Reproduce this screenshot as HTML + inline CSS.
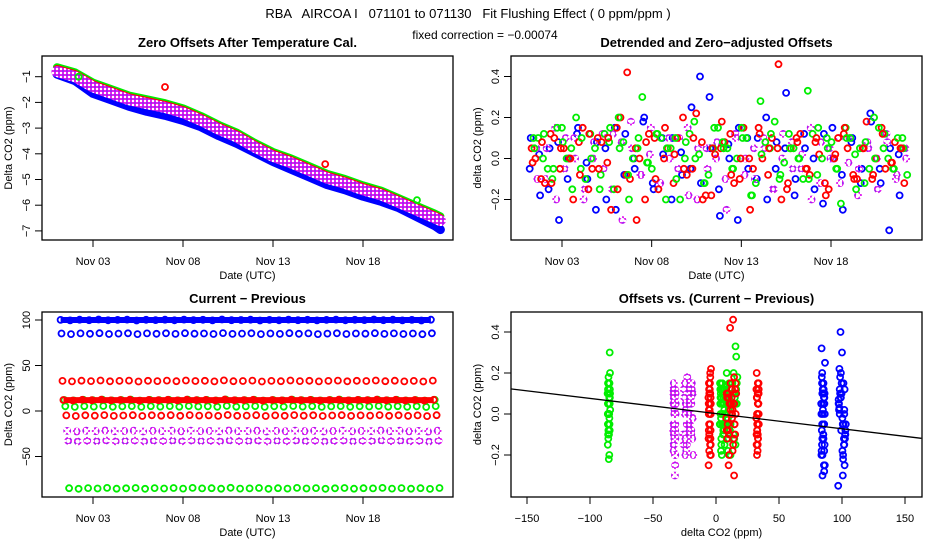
<!DOCTYPE html>
<html><head><meta charset="utf-8"><style>
html,body{margin:0;padding:0;background:#fff;}
svg{display:block;font-family:"Liberation Sans",sans-serif;}
</style></head><body>
<svg id="s" width="936" height="540" viewBox="0 0 936 540">
<defs>
<pattern id="hatch" width="4" height="4" patternUnits="userSpaceOnUse">
<rect width="4" height="4" fill="#e020f0"/><rect width="2" height="2" fill="#ffffff"/><rect x="2" y="2" width="2" height="2" fill="#a020f0"/>
</pattern>
</defs>
<text x="468" y="18" font-size="13" text-anchor="middle" style="white-space:pre">RBA   AIRCOA I   071101 to 071130   Fit Flushing Effect ( 0 ppm/ppm )</text>
<text x="485" y="39" font-size="12" text-anchor="middle">fixed correction = −0.00074</text>
</svg>
<script>
// ---------- data ----------
const trendDays = [1,2,3,4,5,6,7,8,9,10,11,12,13,14,15,16,17,18,19,20,21,22,22.3];
const trendValues = [-0.8,-1.0,-1.4,-1.65,-1.9,-2.05,-2.2,-2.4,-2.7,-3.05,-3.35,-3.75,-4.1,-4.35,-4.65,-4.95,-5.15,-5.4,-5.6,-5.9,-6.2,-6.5,-6.6];
const trendBlueShift = [-0.1,-0.15,-0.25,-0.25,-0.25,-0.3,-0.3,-0.3,-0.25,-0.25,-0.25,-0.2,-0.2,-0.25,-0.25,-0.25,-0.25,-0.25,-0.25,-0.2,-0.25,-0.3,-0.35];
const outlierDays = [7, 15.9, 2.2, 21];
const outlierValues = [-1.4, -4.4, -1.0, -5.8];
const outlierColors = ['#ff0000','#ff0000','#00ee00','#00ee00'];

const groupColors = ['#0000ff','#0000ff','#ff0000','#ff0000','#00ee00','#00ee00','#ff0000','#e020f0','#e020f0','#00ee00'];
const groupLevels = [100,85,33,12,12,5,-5,-22,-33,-85];
const groupSpread = [3,1.5,1,4,5,2,1,4,1,1];
const levelJitter = [0.2,-0.8,0.5,-0.3,0.9,-0.6,0.1,0.7,-0.9,0.4,-0.2,0.6,-0.5,0.8,-0.1,0.3,-0.7,1.0,-0.4,0.0,0.6,-0.9,0.2,-0.5,0.8,-0.3,0.4,-0.8,0.1,0.7,-0.6,0.3,-0.1,0.9,-0.4,0.5,-0.7,0.2,-1.0,0.6];
const offBlue100 = [-0.05,0.02,-0.15,0.08,-0.1,0.12,-0.02,-0.25,0.05,0.15,-0.08,0.0,0.18,-0.12,0.1,-0.2,0.03,-0.05,0.4,0.3,-0.15,0.07,-0.3,0.1,-0.1,0.2,-0.05,0.05,-0.18,0.12,0.0,-0.22,0.15,-0.08,0.08,-0.12,0.22,-0.05,-0.35,0.02];
const offBlue85 = [0.1,-0.18,0.05,-0.3,0.0,0.15,-0.1,0.08,-0.2,-0.25,0.12,-0.05,0.2,-0.15,0.02,0.1,-0.08,0.25,-0.12,0.05,-0.28,0.0,0.15,-0.05,0.1,-0.2,0.08,0.32,-0.1,0.05,-0.15,0.12,0.0,-0.25,0.1,-0.05,0.18,-0.12,0.05,-0.18];
const offRed33 = [0.05,-0.1,0.12,-0.05,0.0,0.08,-0.15,0.1,-0.02,0.15,-0.08,0.05,-0.2,0.1,0.0,-0.12,0.2,-0.05,0.08,-0.18,0.05,0.12,-0.1,0.0,0.15,-0.08,0.05,-0.15,0.1,-0.05,0.08,-0.12,0.0,0.12,-0.08,0.05,-0.1,0.15,-0.02,0.05];
const offRed12 = [-0.02,0.08,-0.12,0.05,0.0,-0.08,0.12,-0.05,0.1,-0.15,0.42,-0.3,0.08,-0.1,0.15,0.02,-0.05,0.1,-0.2,0.05,0.18,-0.08,0.0,-0.25,0.12,0.05,0.46,-0.12,0.08,-0.05,0.1,-0.18,0.02,0.15,-0.1,0.05,-0.08,0.12,-0.02,0.05];
const offGreen12 = [0.1,0.0,-0.1,0.15,0.05,-0.05,0.12,-0.15,0.08,0.2,-0.08,0.05,-0.02,0.12,-0.2,0.1,0.0,0.18,-0.12,0.05,0.08,-0.05,0.15,-0.18,0.28,0.05,-0.1,0.12,0.0,0.33,-0.08,0.1,-0.05,0.15,0.02,-0.12,0.2,0.05,-0.05,0.1];
const offGreen5 = [0.05,0.12,-0.05,0.08,-0.15,0.1,0.0,-0.08,0.15,0.05,-0.2,0.1,-0.02,0.12,0.05,-0.1,0.08,0.0,-0.12,0.15,0.05,-0.05,0.1,-0.18,0.02,0.12,-0.08,0.05,0.0,-0.1,0.15,0.05,-0.05,0.1,-0.15,0.08,0.0,0.12,-0.05,0.05];
const offRedM5 = [0.0,-0.12,0.1,0.05,-0.2,0.15,-0.05,0.08,-0.25,0.2,-0.1,0.0,0.12,-0.15,0.05,0.1,-0.08,0.22,-0.18,0.02,0.08,-0.12,0.15,-0.05,0.0,0.1,-0.2,0.05,0.12,-0.08,0.02,-0.15,0.1,0.05,-0.1,0.18,0.0,-0.05,0.08,-0.12];
const offMagM22 = [0.05,-0.1,0.15,-0.05,0.1,-0.2,0.0,0.12,-0.15,0.08,0.18,-0.08,0.02,-0.12,0.1,-0.05,0.15,-0.2,0.05,0.0,-0.1,0.12,-0.08,0.05,0.1,-0.15,0.0,0.08,-0.05,0.15,-0.12,0.05,0.1,-0.02,-0.18,0.08,0.0,0.12,-0.1,0.05];
const offMagM33 = [-0.1,0.05,-0.2,0.1,0.0,-0.15,0.08,-0.05,0.12,-0.3,0.05,-0.08,0.15,-0.12,0.0,0.1,-0.18,0.05,-0.05,0.08,-0.25,0.1,0.0,-0.1,0.05,-0.15,0.12,-0.05,0.02,-0.2,0.08,0.0,-0.12,0.1,-0.05,0.05,-0.15,0.08,-0.08,0.0];
const offGreenM85 = [0.1,-0.05,0.15,0.0,0.2,-0.1,0.05,0.12,-0.15,0.08,0.0,0.3,-0.05,0.1,0.05,-0.2,0.12,0.02,-0.08,0.15,0.05,0.0,0.1,-0.12,0.08,0.18,-0.02,0.05,-0.1,0.12,0.0,0.08,-0.22,0.1,0.05,-0.05,0.15,0.0,0.1,-0.08];
const groupOffsets = [offBlue100,offBlue85,offRed33,offRed12,offGreen12,offGreen5,offRedM5,offMagM22,offMagM33,offGreenM85];
const drawOrder = [0,1,7,8,2,6,9,4,5,3];
const dateTicks = [3,8,13,18];
const dateLabels = ['Nov 03','Nov 08','Nov 13','Nov 18'];
const tlYTicks = [-1,-2,-3,-4,-5,-6,-7];
const offYTicks = [-0.2,0.0,0.2,0.4];
const offYLabels = ['−0.2','0.0','0.2','0.4'];
const blYTicks = [-50,0,50,100];
const brXTicks = [-150,-100,-50,0,50,100,150];
const fitIntercept = 0.002, fitSlope = -0.00074;
const tStart = 1.2, tEnd = 22.3;

// ---------- helpers ----------
const S = document.getElementById('s');
const NS = 'http://www.w3.org/2000/svg';
function el(tag, attrs, parent){const e=document.createElementNS(NS,tag);for(const k in attrs)e.setAttribute(k,attrs[k]);(parent||S).appendChild(e);return e;}
function lin(d0,d1,r0,r1){return v=>r0+(v-d0)*(r1-r0)/(d1-d0);}
function minus(s){return String(s).replace('-','−');}

function panel(name,L,T,R,B,title){
  const g=el('g',{});
  
  
  const r=el('rect',{x:L,y:T,width:R-L,height:B-T,fill:'none',stroke:'#000','stroke-width':1.3},g);
  
  
  const t=el('text',{x:(L+R)/2,y:T-9,'font-size':13,'font-weight':'bold','text-anchor':'middle'},g);
  t.textContent=title;
  
  
  return g;
}
function xAxis(g,xs,vals,labels,B,title,cx){
  vals.forEach((v,i)=>{
    const x=xs(v);
    el('line',{x1:x,x2:x,y1:B,y2:B+7,stroke:'#000'},g);
    const t=el('text',{x:x,y:B+25,'font-size':11,'text-anchor':'middle'},g);
    t.textContent=labels[i];
    
    
  });
  el('line',{x1:xs(vals[0]),x2:xs(vals[vals.length-1]),y1:B,y2:B,stroke:'#000'},g);
  const t=el('text',{x:cx,y:B+39,'font-size':11,'text-anchor':'middle'},g);
  t.textContent=title;
  
  
}
function yAxis(g,ys,vals,labels,L,T,B,title){
  vals.forEach((v,i)=>{
    const y=ys(v);
    el('line',{x1:L-7,x2:L,y1:y,y2:y,stroke:'#000'},g);
    const t=el('text',{x:L-12,y:y,'font-size':11,'text-anchor':'middle',transform:`rotate(-90 ${L-12} ${y})`},g);
    t.textContent=labels[i];
    
    
  });
  el('line',{x1:L,x2:L,y1:ys(vals[0]),y2:ys(vals[vals.length-1]),stroke:'#000'},g);
  const my=(T+B)/2;
  const t=el('text',{x:L-30,y:my,'font-size':11,'text-anchor':'middle',transform:`rotate(-90 ${L-30} ${my})`},g);
  t.textContent=title;
  
  
}
function dot(g,x,y,color){
  const c=el('circle',{cx:x.toFixed(1),cy:y.toFixed(1),r:3,fill:'none',stroke:color==='#e020f0'?'url(#hatch)':color,'stroke-width':1.8},g);
  
  
}
function tOf(gi,i,n){return tStart+(i+gi/10)*(tEnd-tStart)/n;}

// ---------- panel 1: top-left ----------
(function(){
  const L=42,T=56,R=453,B=240;
  const xs=lin(3,18,93,363), ys=lin(-1,-7,76.7,230.9);
  const g=panel('zero-offsets-panel',L,T,R,B,'Zero Offsets After Temperature Cal.');
  xAxis(g,xs,dateTicks,dateLabels,B,'Date (UTC)',(L+R)/2);
  yAxis(g,ys,tlYTicks,tlYTicks.map(minus),L,T,B,'Delta CO2 (ppm)');
  function band(shiftArr,shift,color,w,name){
    const pts=trendDays.map((d,i)=>xs(d).toFixed(1)+','+ys(trendValues[i]+(shiftArr?shiftArr[i]:0)+shift).toFixed(1)).join(' ');
    const p=el('polyline',{points:pts,fill:'none',stroke:color,'stroke-width':w,'stroke-linejoin':'round','stroke-linecap':'round'},g);
    
    
  }
  band(trendBlueShift,0,'#0000ff',9,'series-blue');
  band(null,0.17,'#00ee00',8,'series-green');
  band(null,0.1,'#ff0000',8,'series-red');
  band(null,0,'url(#hatch)',11,'series-magenta');
  outlierDays.forEach((d,i)=>dot(g,xs(d),ys(outlierValues[i]),outlierColors[i]));
})();

// ---------- panel 2: top-right ----------
(function(){
  const L=511,T=56,R=922,B=240;
  const xs=lin(3,18,562,831), ys=lin(0,0.2,158.5,117.5);
  const g=panel('detrended-offsets-panel',L,T,R,B,'Detrended and Zero\u2212adjusted Offsets');
  xAxis(g,xs,dateTicks,dateLabels,B,'Date (UTC)',(L+R)/2);
  yAxis(g,ys,offYTicks,offYLabels,L,T,B,'delta CO2 (ppm)');
  drawOrder.forEach(gi=>{
    const arr=groupOffsets[gi];
    arr.forEach((v,i)=>dot(g,xs(tOf(gi,i,arr.length)),ys(v),groupColors[gi]));
  });
})();

// ---------- panel 3: bottom-left ----------
(function(){
  const L=42,T=312,R=453,B=497;
  const xs=lin(3,18,93,363), ys=lin(0,50,411,365.5);
  const g=panel('current-minus-previous-panel',L,T,R,B,'Current \u2212 Previous');
  xAxis(g,xs,dateTicks,dateLabels,B,'Date (UTC)',(L+R)/2);
  yAxis(g,ys,blYTicks,blYTicks.map(minus),L,T,B,'Delta CO2 (ppm)');
  drawOrder.forEach(gi=>{
    const arr=groupOffsets[gi];
    if(gi===0||gi===3){
      const p=el('line',{x1:xs(tOf(gi,0,arr.length)),x2:xs(tOf(gi,arr.length-1,arr.length)),y1:ys(groupLevels[gi]),y2:ys(groupLevels[gi]),stroke:groupColors[gi],'stroke-width':6},g);
      
      
    }
    arr.forEach((v,i)=>dot(g,xs(tOf(gi,i,arr.length)),ys(groupLevels[gi]+levelJitter[i]*0.6),groupColors[gi]));
  });
})();

// ---------- panel 4: bottom-right ----------
(function(){
  const L=511,T=312,R=922,B=497;
  const xs=lin(-150,150,527,905), ys=lin(0,0.2,414,373);
  const g=panel('offsets-vs-difference-panel',L,T,R,B,'Offsets vs. (Current \u2212 Previous)');
  xAxis(g,xs,brXTicks,brXTicks.map(minus),B,'delta CO2 (ppm)',(L+R)/2+5);
  yAxis(g,ys,offYTicks,offYLabels,L,T,B,'delta CO2 (ppm)');
  drawOrder.forEach(gi=>{
    groupOffsets[gi].forEach((v,i)=>dot(g,xs(groupLevels[gi]+levelJitter[i]*groupSpread[gi]),ys(v),groupColors[gi]));
  });
  const x0=-163,x1=163;
  const fl=el('line',{x1:xs(x0),x2:xs(x1),y1:ys(fitIntercept+fitSlope*x0),y2:ys(fitIntercept+fitSlope*x1),stroke:'#000','stroke-width':1.3},g);
  
  
})();
</script>
</body></html>
